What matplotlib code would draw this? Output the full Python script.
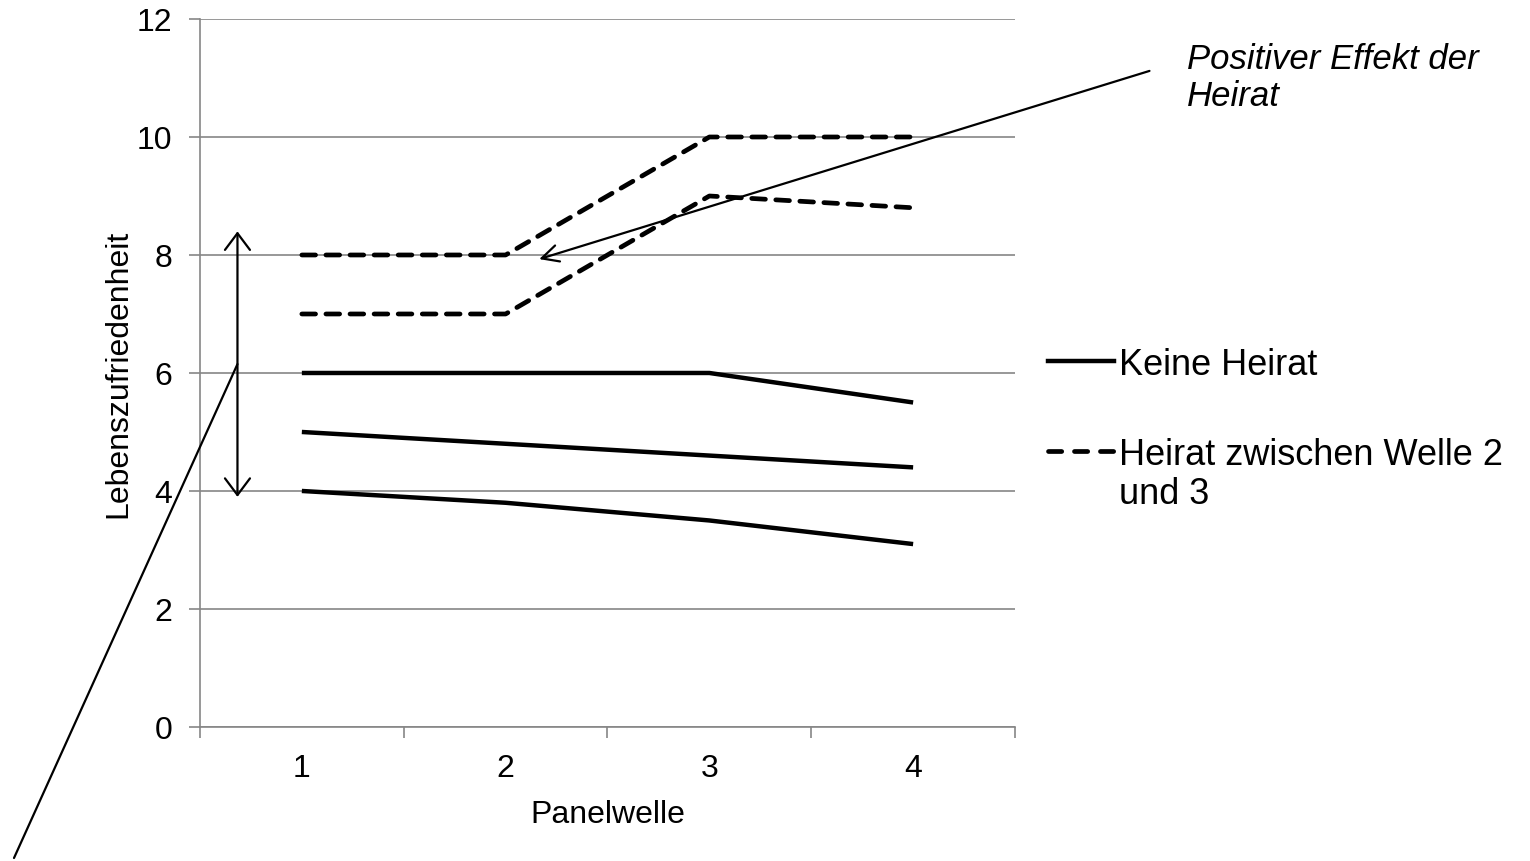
#Lebenszufriedenheit vs Panelwelle, Heirat-Effekt
import matplotlib.pyplot as plt
from matplotlib.lines import Line2D

plt.rcParams['font.family'] = ['Liberation Sans', 'DejaVu Sans']

waves = [1, 2, 3, 4]
wave_labels = ["1", "2", "3", "4"]

no_marriage = [
    [6.0, 6.0, 6.0, 5.5],
    [5.0, 4.8, 4.6, 4.4],
    [4.0, 3.8, 3.5, 3.1],
]
marriage = [
    [8.0, 8.0, 10.0, 10.0],
    [7.0, 7.0, 9.0, 8.8],
]

legend_labels = ["Keine Heirat", "Heirat zwischen Welle 2\nund 3"]
y_ticks = [0, 2, 4, 6, 8, 10, 12]

grey = '#868686'
dash = (0, (2.9, 2.2))
W, H = 1530, 862

fig = plt.figure(figsize=(15.3, 8.62), dpi=100)
ax = fig.add_axes([0.1307, 0.1555, 0.5327, 0.8213])

for s in no_marriage:
    ax.plot(waves, s, color='black', lw=3.2, solid_capstyle='butt', zorder=3)
for s in marriage:
    ax.plot(waves, s, color='black', lw=3.4, linestyle=dash, dash_capstyle='round', zorder=3)

ax.set_xlim(0.5, 4.5)
ax.set_ylim(0, 12)
ax.set_yticks(y_ticks)
ax.set_yticklabels([str(v) for v in y_ticks], fontsize=23)
ax.set_xticks([0.5, 1.5, 2.5, 3.5, 4.5])
ax.set_xticklabels([])
ax.set_xticks(waves, minor=True)
ax.set_xticklabels(wave_labels, minor=True, fontsize=23)
ax.tick_params(axis='x', which='major', length=8, width=1.2, color=grey, direction='out')
ax.tick_params(axis='x', which='minor', length=0, pad=19)
ax.tick_params(axis='y', length=8, width=1.2, color=grey, direction='out', pad=12)

ax.grid(axis='y', color=grey, lw=1.2)
ax.set_axisbelow(True)
for sp in ['top', 'right']:
    ax.spines[sp].set_visible(False)
for sp in ['left', 'bottom']:
    ax.spines[sp].set_color(grey)
    ax.spines[sp].set_linewidth(1.2)

ax.set_xlabel("Panelwelle", fontsize=23, labelpad=11)
ax.set_ylabel("Lebenszufriedenheit", fontsize=23, labelpad=2)

# double arrow (range of satisfaction levels)
ax.annotate('', xy=(0.684, 8.4), xytext=(0.684, 3.9),
            arrowprops=dict(arrowstyle='<->,head_length=0.6,head_width=0.45',
                            mutation_scale=20, lw=1.6, color='black',
                            shrinkA=0, shrinkB=0), annotation_clip=False)
# line from lower left corner up to the arrow
ax.annotate('', xy=(0.684, 6.15), xytext=(14, 3), textcoords='figure pixels',
            arrowprops=dict(arrowstyle='-', lw=1.6, color='black',
                            shrinkA=0, shrinkB=0), annotation_clip=False)
# arrow from text to effect
ax.annotate('', xy=(2.165, 7.93), xytext=(5.16, 11.12),
            arrowprops=dict(arrowstyle='->,head_length=0.6,head_width=0.3',
                            mutation_scale=20, lw=1.6, color='black',
                            shrinkA=0, shrinkB=0), annotation_clip=False)

fig.text(1187 / W, 1 - 43 / H, "Positiver Effekt der\nHeirat", fontsize=25,
         style='italic', ha='left', va='top', linespacing=1.15)

# legend drawn by hand (handle aligned with first text line, like Excel)
leg_y = [362, 452]
styles = [dict(lw=3.2), dict(lw=3.4, linestyle=(0, (2.8, 2.7)), dash_capstyle='round')]
for lab, yy, st in zip(legend_labels, leg_y, styles):
    fig.add_artist(Line2D([1048 / W, 1114 / W], [1 - yy / H, 1 - yy / H],
                          color='black', transform=fig.transFigure, **st))
    fig.text(1119 / W, 1 - (yy - 14) / H, lab, fontsize=26, ha='left', va='top',
             linespacing=1.15)

plt.savefig('out.png', dpi=100)
